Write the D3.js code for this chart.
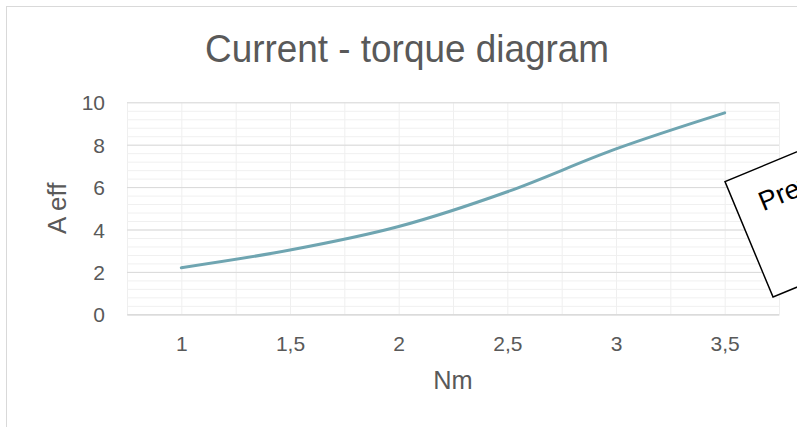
<!DOCTYPE html>
<html>
<head>
<meta charset="utf-8">
<script src="https://cdn.jsdelivr.net/npm/d3@7"></script>
<style>
  html, body { margin: 0; padding: 0; background: #fff; }
  svg { display: block; }
  text { font-family: "Liberation Sans", Arial, sans-serif; }
</style>
</head>
<body>
<svg id="chart" width="797" height="427"></svg>
<script>
// ---- data ----
const torque = [1, 1.5, 2, 2.5, 3, 3.5];           // Nm
const current = [2.2, 3.03, 4.14, 5.78, 7.8, 9.5];  // A eff
const xTicks = [1, 1.5, 2, 2.5, 3, 3.5];
const yTicks = [0, 2, 4, 6, 8, 10];
const titleText = "Current - torque diagram";
const xTitle = "Nm";
const yTitle = "A eff";
const stampText = "Preview";

// ---- layout ----
const W = 797, H = 427;
const plot = { left: 127, right: 779, top: 102.3, bottom: 314.3 };

const svg = d3.select("#chart");

// chart border
svg.append("rect")
  .attr("x", 6.5).attr("y", 6.5)
  .attr("width", 1000).attr("height", 1000)
  .attr("fill", "#fff").attr("stroke", "#d9d9d9").attr("stroke-width", 1);

const x = d3.scaleLinear().domain([0.75, 3.75]).range([plot.left, plot.right]);
const y = d3.scaleLinear().domain([0, 10]).range([plot.bottom, plot.top]);

// vertical gridlines every 0.25
const g = svg.append("g");
g.append("g")
  .attr("transform", `translate(0,${plot.bottom})`)
  .call(d3.axisBottom(x).tickValues(d3.range(0.75, 3.76, 0.25)).tickSize(-(plot.bottom - plot.top)).tickFormat(""))
  .call(s => s.select(".domain").remove())
  .call(s => s.selectAll("line").attr("stroke", "#efefef").attr("stroke-width", 1));

// minor horizontal gridlines every 0.4
g.append("g")
  .attr("transform", `translate(${plot.left},0)`)
  .call(d3.axisLeft(y).tickValues(d3.range(0, 10.01, 0.4)).tickSize(-(plot.right - plot.left)).tickFormat(""))
  .call(s => s.select(".domain").remove())
  .call(s => s.selectAll("line").attr("stroke", "#f0f0f0").attr("stroke-width", 1));

// major horizontal gridlines every 2
g.append("g")
  .attr("transform", `translate(${plot.left},0)`)
  .call(d3.axisLeft(y).tickValues(yTicks).tickSize(-(plot.right - plot.left)).tickFormat(""))
  .call(s => s.select(".domain").remove())
  .call(s => s.selectAll("line").attr("stroke", "#d9d9d9").attr("stroke-width", 1));

// x axis line + labels
const xa = svg.append("g")
  .attr("transform", `translate(0,${plot.bottom})`)
  .call(d3.axisBottom(x).tickValues(xTicks).tickSize(0).tickPadding(0)
    .tickFormat(d => String(d).replace(".", ",")));
xa.select(".domain").attr("stroke", "#d9d9d9").attr("stroke-width", 1.2);
xa.selectAll("text")
  .attr("y", 37).attr("dy", 0)
  .attr("fill", "#595959").attr("font-size", 21)
  .attr("font-family", "Liberation Sans, Arial, sans-serif");

// y axis labels
const ya = svg.append("g")
  .attr("transform", `translate(${plot.left},0)`)
  .call(d3.axisLeft(y).tickValues(yTicks).tickSize(0).tickPadding(22));
ya.select(".domain").remove();
ya.selectAll("text")
  .attr("fill", "#595959").attr("font-size", 21).attr("dy", "0.36em")
  .attr("font-family", "Liberation Sans, Arial, sans-serif");

// line
const line = d3.line()
  .x((d, i) => x(torque[i]))
  .y(d => y(d))
  .curve(d3.curveCardinal.tension(0));
svg.append("path")
  .datum(current)
  .attr("d", line)
  .attr("fill", "none")
  .attr("stroke", "#6fa5b1")
  .attr("stroke-width", 3)
  .attr("stroke-linecap", "round");

// title
svg.append("text")
  .attr("x", 407).attr("y", 61.7)
  .attr("text-anchor", "middle")
  .attr("fill", "#595959").attr("font-size", 39)
  .attr("textLength", 404).attr("lengthAdjust", "spacingAndGlyphs")
  .text(titleText);

// axis titles
svg.append("text")
  .attr("x", (plot.left + plot.right) / 2).attr("y", 389.3)
  .attr("text-anchor", "middle")
  .attr("fill", "#595959").attr("font-size", 26)
  .attr("textLength", 39.4).attr("lengthAdjust", "spacingAndGlyphs")
  .text(xTitle);

svg.append("text")
  .attr("transform", `translate(65.5,${(plot.top + plot.bottom) / 2}) rotate(-90)`)
  .attr("text-anchor", "middle")
  .attr("fill", "#595959").attr("font-size", 26)
  .text(yTitle);

// rotated stamp box
const stamp = svg.append("g")
  .attr("transform", "translate(725,181.7) rotate(-22.6)");
stamp.append("rect")
  .attr("x", 0).attr("y", 0)
  .attr("width", 260).attr("height", 125)
  .attr("fill", "#fff").attr("stroke", "#000").attr("stroke-width", 1.5);
stamp.append("text")
  .attr("x", 24).attr("y", 42)
  .attr("fill", "#000").attr("font-size", 27)
  .attr("font-family", "Open Sans, sans-serif")
  .text(stampText);
</script>
</body>
</html>
